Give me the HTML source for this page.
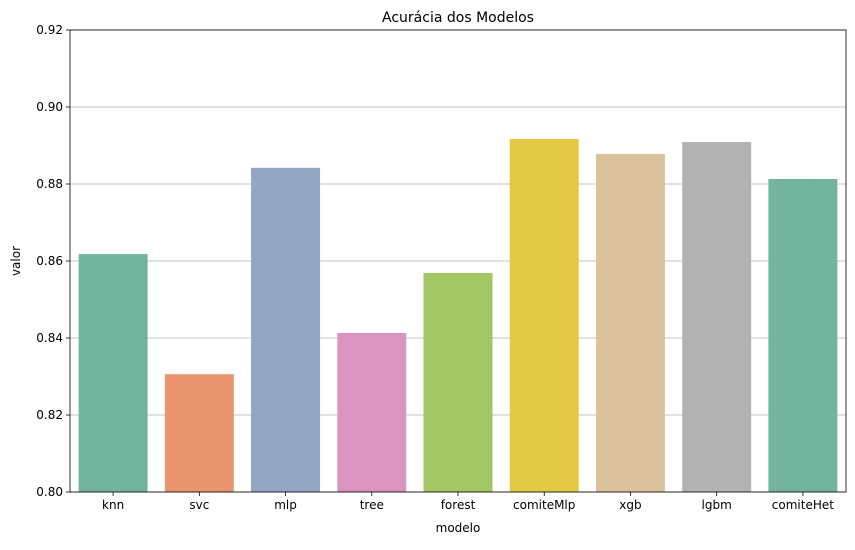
<!DOCTYPE html>
<html><head><meta charset="utf-8"><style>
body{margin:0;background:#fff;font-family:"Liberation Sans","DejaVu Sans",sans-serif;}
svg text{font-family:"DejaVu Sans","Liberation Sans",sans-serif;}
</style></head><body>
<svg id="chart" width="855" height="545" xmlns="http://www.w3.org/2000/svg">
<rect width="855" height="545" fill="#fff"/>
<g id="grid"></g><g id="bars"></g><g id="axes"></g>
<text x="458" y="22" text-anchor="middle" font-size="14">Acurácia dos Modelos</text>
<text x="458" y="532" text-anchor="middle" font-size="12">modelo</text>
<text x="20" y="261" text-anchor="middle" font-size="12" transform="rotate(-90 20 261)">valor</text>
</svg>
<script>
const categories=["knn","svc","mlp","tree","forest","comiteMlp","xgb","lgbm","comiteHet"];
const values=[0.8618,0.8306,0.8842,0.8413,0.8569,0.8917,0.8878,0.8909,0.8813];
const colors=["#73b49f","#e9956f","#94a4c3","#db94bf","#a1c663","#e4c944","#dbc29d","#b3b3b3","#73b49f"];
const yTicks=[0.80,0.82,0.84,0.86,0.88,0.90,0.92];
const L=70,R=846,T=30,B=492,yMin=0.80,yMax=0.92;
const NS="http://www.w3.org/2000/svg";
const y=v=>B-(v-yMin)/(yMax-yMin)*(B-T);
const band=(R-L)/categories.length;
const x=i=>L+band*i+band/2;
function mk(tag,attrs,parent){const e=document.createElementNS(NS,tag);for(const k in attrs)e.setAttribute(k,attrs[k]);document.getElementById(parent).appendChild(e);return e;}
yTicks.forEach(t=>{
 const g=mk("line",{x1:L,x2:R,y1:y(t),y2:y(t),stroke:"#b0b0b0","stroke-width":0.8},"grid");
 
 
 mk("line",{x1:L-4,x2:L,y1:y(t),y2:y(t),stroke:"#000","stroke-width":0.8},"axes");
 const tx=mk("text",{x:L-7,y:y(t)+4,"text-anchor":"end","font-size":"12"},"axes");
 tx.textContent=t.toFixed(2);
 
 
});
categories.forEach((c,i)=>{
 const w=band*0.8;
 const r=mk("rect",{x:x(i)-w/2,y:y(values[i]),width:w,height:B-y(values[i]),fill:colors[i]},"bars");
 
 
 mk("line",{x1:x(i),x2:x(i),y1:B,y2:B+4,stroke:"#000","stroke-width":0.8},"axes");
 const tx=mk("text",{x:x(i),y:B+17,"text-anchor":"middle","font-size":"12"},"axes");
 tx.textContent=c;
 
 
});
const f=mk("rect",{x:L,y:T,width:R-L,height:B-T,fill:"none",stroke:"#000","stroke-width":0.8},"axes");


</script>
</body></html>
